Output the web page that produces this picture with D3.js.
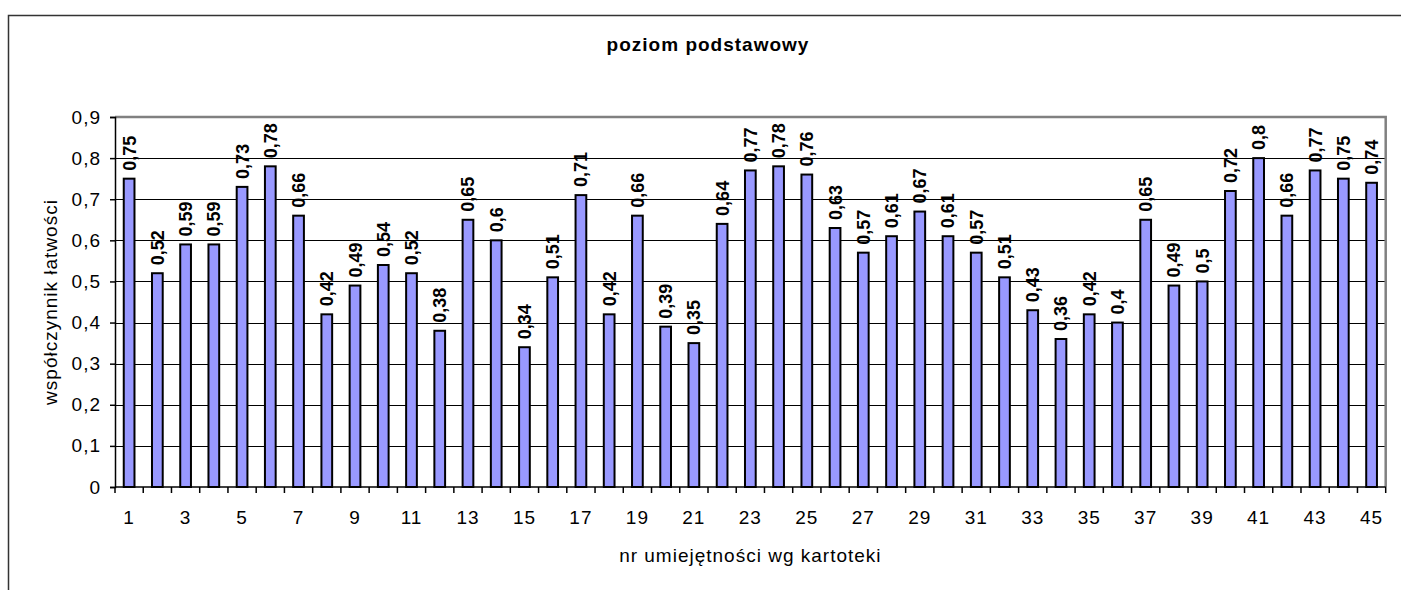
<!DOCTYPE html>
<html>
<head>
<meta charset="utf-8">
<script src="https://cdn.jsdelivr.net/npm/d3@7"></script>
<style>
  body { margin: 0; background: #fff; }
  text { font-family: Arial, "Liberation Sans", sans-serif; }
</style>
</head>
<body>
<div id="chart"></div>
<script>
// Chart data
const categories = [1, 2, 3, 4, 5, 6, 7, 8, 9, 10, 11, 12, 13, 14, 15, 16, 17, 18, 19, 20,
  21, 22, 23, 24, 25, 26, 27, 28, 29, 30, 31, 32, 33, 34, 35, 36, 37, 38, 39, 40,
  41, 42, 43, 44, 45];
const values = [0.75, 0.52, 0.59, 0.59, 0.73, 0.78, 0.66, 0.42, 0.49, 0.54, 0.52, 0.38, 0.65, 0.6, 0.34,
  0.51, 0.71, 0.42, 0.66, 0.39, 0.35, 0.64, 0.77, 0.78, 0.76, 0.63, 0.57, 0.61, 0.67, 0.61,
  0.57, 0.51, 0.43, 0.36, 0.42, 0.4, 0.65, 0.49, 0.5, 0.72, 0.8, 0.66, 0.77, 0.75, 0.74];
const xTickLabels = [1, 3, 5, 7, 9, 11, 13, 15, 17, 19, 21, 23, 25, 27, 29, 31, 33, 35, 37, 39, 41, 43, 45];
const yTicks = [0, 0.1, 0.2, 0.3, 0.4, 0.5, 0.6, 0.7, 0.8, 0.9];

const title = "poziom podstawowy";
const xTitle = "nr umiejętności wg kartoteki";
const yTitle = "współczynnik łatwości";

const data = categories.map((c, i) => ({ cat: c, value: values[i] }));

// Polish number format (decimal comma)
const pl = d3.formatLocale({ decimal: ",", thousands: " ", grouping: [3], currency: ["", " zł"] });
const fmt = pl.format("");

let width = 1401, height = 590;
let margin = { top: 117, bottom: 103, left: 115, right: 15.3 };

let svg = d3.select("#chart")
  .append("svg")
  .attr("width", width)
  .attr("height", height);

// outer chart border
svg.append("rect")
  .attr("x", 8.5)
  .attr("y", 15.5)
  .attr("width", 1420)
  .attr("height", 620)
  .attr("fill", "#fff")
  .attr("stroke", "#333")
  .attr("stroke-width", 1.5);

let xScale = d3.scaleBand()
  .domain(categories)
  .range([margin.left, width - margin.right])
  .paddingInner(0.62)
  .paddingOuter(0.31);

let xCat = d3.scaleBand()
  .domain(categories)
  .range([margin.left, width - margin.right]);

let yScale = d3.scaleLinear()
  .domain([0, 0.9])
  .range([height - margin.bottom, margin.top]);

// gridlines
svg.append("g")
  .selectAll("line")
  .data(yTicks.slice(1))
  .enter()
  .append("line")
  .attr("x1", margin.left)
  .attr("x2", width - margin.right)
  .attr("y1", d => Math.round(yScale(d)) + 0.5)
  .attr("y2", d => Math.round(yScale(d)) + 0.5)
  .attr("stroke", "#000")
  .attr("stroke-width", 1);

// plot area border (top / right in gray)
svg.append("path")
  .attr("d", `M${margin.left},${margin.top}H${width - margin.right}V${height - margin.bottom}`)
  .attr("fill", "none")
  .attr("stroke", "#808080")
  .attr("stroke-width", 2.5);

// bars
svg.selectAll(".bar")
  .data(data)
  .enter()
  .append("rect")
  .attr("class", "bar")
  .attr("x", d => xScale(d.cat))
  .attr("y", d => yScale(d.value))
  .attr("width", xScale.bandwidth())
  .attr("height", d => yScale(0) - yScale(d.value))
  .attr("fill", "#9999ff")
  .attr("stroke", "#000")
  .attr("stroke-width", 2);

// value labels
svg.selectAll(".val")
  .data(data)
  .enter()
  .append("text")
  .attr("class", "val")
  .attr("transform", d => `translate(${xScale(d.cat) + xScale.bandwidth() / 2},${yScale(d.value) - 8}) rotate(-90)`)
  .attr("dy", "0.36em")
  .style("font-size", "18px")
  .style("font-weight", "bold")
  .text(d => fmt(d.value));

// y axis
let yAxis = svg.append("g")
  .attr("transform", `translate(${margin.left},0)`)
  .call(d3.axisLeft(yScale).tickValues(yTicks).tickFormat(fmt).tickSize(5).tickPadding(9));
yAxis.selectAll("text")
  .style("font-size", "19px")
  .style("letter-spacing", "1px")
  .attr("fill", "#000")
  .attr("font-family", null);
yAxis.selectAll("line, path").attr("stroke", "#000").attr("stroke-width", 1.5);

// x axis: ticks at category boundaries, labels on odd categories
let xAxisG = svg.append("g")
  .attr("transform", `translate(0,${height - margin.bottom})`);
xAxisG.append("line")
  .attr("x1", margin.left)
  .attr("x2", width - margin.right)
  .attr("stroke", "#000")
  .attr("stroke-width", 1.5);
xAxisG.selectAll(".xtick")
  .data(categories.concat(["end"]))
  .enter()
  .append("line")
  .attr("class", "xtick")
  .attr("x1", d => d === "end" ? width - margin.right : xCat(d))
  .attr("x2", d => d === "end" ? width - margin.right : xCat(d))
  .attr("y1", 0)
  .attr("y2", 6)
  .attr("stroke", "#000")
  .attr("stroke-width", 1.5);
xAxisG.selectAll(".xlab")
  .data(xTickLabels)
  .enter()
  .append("text")
  .attr("class", "xlab")
  .attr("x", d => xCat(d) + xCat.bandwidth() / 2)
  .attr("y", 37)
  .style("text-anchor", "middle")
  .style("font-size", "19px")
  .style("letter-spacing", "1px")
  .text(d => d);

// title
svg.append("text")
  .attr("x", 708)
  .attr("y", 51)
  .style("text-anchor", "middle")
  .style("font-size", "19px")
  .style("font-weight", "bold")
  .style("letter-spacing", "1px")
  .text(title);

// x axis title
svg.append("text")
  .attr("x", (margin.left + width - margin.right) / 2)
  .attr("y", 562)
  .style("text-anchor", "middle")
  .style("font-size", "19px")
  .style("letter-spacing", "1px")
  .text(xTitle);

// y axis title
svg.append("text")
  .attr("transform", `translate(57,${(margin.top + height - margin.bottom) / 2}) rotate(-90)`)
  .style("text-anchor", "middle")
  .style("font-size", "19px")
  .style("letter-spacing", "1px")
  .text(yTitle);
</script>
</body>
</html>
